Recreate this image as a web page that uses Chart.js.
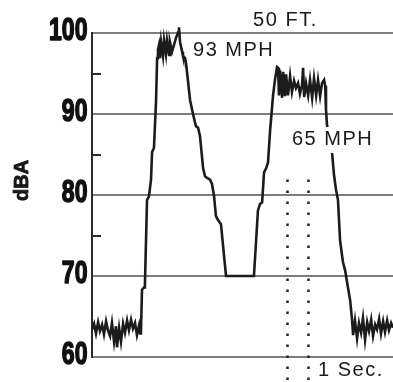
<!DOCTYPE html>
<html>
<head>
<meta charset="utf-8">
<script src="https://cdn.jsdelivr.net/npm/chart.js@4.4.1/dist/chart.umd.min.js"></script>
<style>
  html, body { margin: 0; padding: 0; background: #fff; }
  #wrap { width: 393px; height: 382px; }
</style>
</head>
<body>
<div id="wrap"><canvas id="c" width="393" height="382"></canvas></div>
<script>
// ---- data (time in seconds, sound level in dBA) ----
const timeSec = [
  0.00,0.10,0.19,0.29,0.38,0.48,0.57,0.67,0.76,0.86,0.95,1.05,1.14,1.19,1.29,1.38,1.48,1.57,1.67,1.76,1.86,1.95,2.05,2.14,2.24,2.29,2.33,
  2.38,2.48,2.52,2.62,2.71,2.81,2.86,2.95,3.05,3.10,3.14,
  3.19,3.24,3.29,3.38,3.43,3.52,3.57,3.67,3.71,3.81,3.90,4.00,4.10,4.14,4.19,4.29,4.33,4.43,4.48,
  4.67,4.81,4.90,4.95,5.05,5.14,5.29,5.38,5.48,5.62,5.71,5.81,5.90,6.00,6.14,6.38,
  7.71,
  7.90,8.00,8.10,8.19,8.29,8.38,8.48,8.62,8.71,8.81,
  8.86,8.90,8.95,9.05,9.10,9.19,9.24,9.33,9.43,9.52,9.62,9.71,9.81,9.90,10.00,10.05,10.10,10.19,10.29,10.38,10.48,10.57,10.67,10.76,10.86,10.95,11.05,11.10,
  11.14,11.19,11.33,11.43,11.52,11.62,11.71,11.81,11.90,11.95,12.05,12.14,12.29,12.38,
  12.43,12.52,12.62,12.71,12.81,12.90,13.00,13.10,13.19,13.29,13.38,13.48,13.57,13.67,13.76,13.86,13.95,14.05,14.14,14.24,14.33
];
const levelDbA = [
  63.4,64.1,62.9,64.3,63.2,64.0,62.8,64.4,63.3,62.6,64.2,61.9,63.8,61.2,63.6,61.9,64.1,63.0,64.5,63.3,64.6,63.5,64.2,62.7,63.9,62.9,63.0,
  68.3,68.6,69.0,79.4,79.8,81.9,85.3,85.8,91.7,96.9,97.9,
  98.5,96.9,98.9,97.2,99.1,97.4,99.1,97.3,98.9,97.7,98.5,99.4,100.1,100.7,98.9,97.7,97.2,96.9,96.2,
  91.7,90.0,89.0,88.5,88.3,87.3,83.3,82.3,82.1,81.9,81.4,79.9,77.4,76.9,76.4,70.0,
  70.0,
  78.1,78.9,79.1,82.8,83.3,84.0,88.0,92.3,94.2,95.8,
  95.7,92.3,95.4,92.0,95.2,92.2,94.9,92.3,94.7,92.7,94.1,93.2,93.8,92.5,93.6,95.7,92.1,93.8,92.3,94.2,92.0,94.4,92.3,94.2,92.2,93.8,94.2,93.5,
  90.5,88.6,86.8,85.2,82.5,80.6,79.4,74.4,72.6,71.7,70.7,69.3,67.0,64.6,
  62.7,64.5,62.3,64.2,63.0,64.8,62.1,64.3,63.2,64.6,62.6,64.0,63.4,64.7,62.9,64.4,63.1,64.5,63.3,64.2,63.6
];
const yTickValues = [60, 70, 80, 90, 100];
const yMinorTicks = [75, 85, 95];
const timeMarkers = [9.27, 10.27];           // 1 second interval
const axisTitle = "dBA";
const labels = [
  { text: "50 FT.",  t: 7.67,  v: 101.6, box: false },
  { text: "93 MPH",  t: 4.81,  v: 97.9,  box: false },
  { text: "65 MPH",  t: 9.52,  v: 86.8,  box: true  },
  { text: "1 Sec.",  t: 10.76, v: 58.3,  box: false }
];

const points = timeSec.map((t, i) => ({ x: t, y: levelDbA[i] }));

const decor = {
  id: 'decor',
  afterDatasetsDraw(chart) {
    const { ctx, scales: { x, y }, chartArea } = chart;
    ctx.save();
    // minor inner ticks
    ctx.strokeStyle = '#2a2a2a';
    ctx.lineWidth = 2;
    yMinorTicks.forEach(v => {
      const py = Math.round(y.getPixelForValue(v));
      ctx.beginPath();
      ctx.moveTo(chartArea.left, py);
      ctx.lineTo(chartArea.left + 9, py);
      ctx.stroke();
    });
    // dotted time markers
    ctx.setLineDash([2.5, 8.5]);
    ctx.lineWidth = 2.5;
    ctx.strokeStyle = '#222';
    timeMarkers.forEach(t => {
      const px = Math.round(x.getPixelForValue(t)) + 0.5;
      ctx.beginPath();
      ctx.moveTo(px, y.getPixelForValue(81.9));
      ctx.lineTo(px, chart.height);
      ctx.stroke();
    });
    ctx.setLineDash([]);
    // text labels
    ctx.font = '20px "Liberation Sans", Arial, sans-serif';
    ctx.letterSpacing = '1.5px';
    ctx.textBaseline = 'middle';
    ctx.textAlign = 'left';
    labels.forEach(l => {
      const px = x.getPixelForValue(l.t);
      const py = y.getPixelForValue(l.v);
      const w = ctx.measureText(l.text).width;
      if (l.box) {
        ctx.fillStyle = '#fff';
        ctx.fillRect(px - 3, py - 13, w + 6, 26);
      }
      ctx.fillStyle = '#1a1a1a';
      ctx.fillText(l.text, px, py);
    });
    ctx.letterSpacing = '0px';
    // condensed heavy y tick labels
    ctx.font = 'bold 32px "Liberation Sans", Arial, sans-serif';
    ctx.textAlign = 'right';
    ctx.fillStyle = '#111';
    ctx.strokeStyle = '#111';
    ctx.lineJoin = 'round';
    yTickValues.forEach(v => {
      const py = y.getPixelForValue(v) - 1.5;
      ctx.save();
      ctx.translate(chartArea.left - 4.5, py);
      ctx.scale(0.72, 1);
      ctx.lineWidth = 1.6;
      ctx.fillText(String(v), 0, 0);
      ctx.strokeText(String(v), 0, 0);
      ctx.restore();
    });
    // y axis title
    ctx.font = 'bold 20px "Liberation Sans", Arial, sans-serif';
    ctx.translate(22, y.getPixelForValue(81.8));
    ctx.rotate(-Math.PI / 2);
    ctx.textAlign = 'center';
    ctx.fillStyle = '#1a1a1a';
    ctx.lineWidth = 0.8;
    ctx.fillText(axisTitle, 0, 0);
    ctx.strokeText(axisTitle, 0, 0);
    ctx.restore();
  }
};

new Chart(document.getElementById('c'), {
  type: 'line',
  data: {
    datasets: [{
      data: points,
      borderColor: '#1b1b1b',
      borderWidth: 2.6,
      pointRadius: 0,
      tension: 0,
      clip: false
    }]
  },
  options: {
    responsive: false,
    animation: false,
    layout: { padding: { top: 33, bottom: 25, left: 0, right: 0 } },
    plugins: { legend: { display: false }, tooltip: { enabled: false } },
    scales: {
      x: { type: 'linear', min: 0, max: 14.33, display: false },
      y: {
        min: 60, max: 100,
        afterBuildTicks(s) { s.ticks = yTickValues.map(v => ({ value: v })); },
        afterFit(s) { s.width = 92; },
        ticks: { display: false },
        grid: { color: '#7d7d7d', lineWidth: 2, drawTicks: false },
        border: { color: '#2a2a2a', width: 2 }
      }
    }
  },
  plugins: [decor]
});
</script>
</body>
</html>
